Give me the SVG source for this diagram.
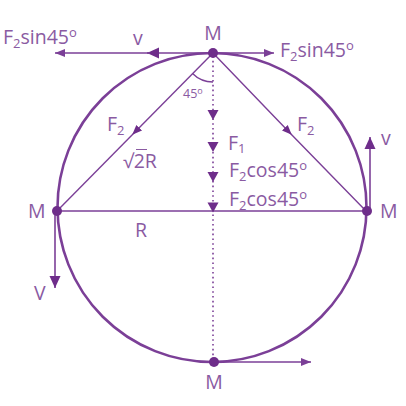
<svg xmlns="http://www.w3.org/2000/svg" width="406" height="406" viewBox="0 0 406 406">
<style>
.ln{stroke:#7b3f97;fill:none;stroke-width:1.4}
.vel{stroke:#7b3f97;fill:none;stroke-width:1.6}
.dot{fill:#6e2d8a}
.t{font-family:"Open Sans","Noto Sans",sans-serif;fill:#8a5aa2;font-size:19.5px}
.s{font-size:12.5px}
.sm{font-size:13px}
.tri{fill:#6e2d8a}
</style>
<defs>
<marker id="ah" markerUnits="userSpaceOnUse" markerWidth="10" markerHeight="10" viewBox="0 0 10 10" refX="10" refY="5" orient="auto">
<path d="M0,1 L10,5 L0,9 Z" fill="#7b3f97"/>
</marker>
<marker id="ahb" markerUnits="userSpaceOnUse" markerWidth="12" markerHeight="12" viewBox="0 0 12 12" refX="12" refY="6" orient="auto">
<path d="M0,0.5 L12,6 L0,11.5 Z" fill="#6e2d8a"/>
</marker>
<marker id="mid" markerUnits="userSpaceOnUse" markerWidth="10" markerHeight="10" viewBox="0 0 10 10" refX="6" refY="5" orient="auto">
<path d="M0,1 L10,5 L0,9 Z" fill="#6e2d8a"/>
</marker>
</defs>

<g id="circle">
<circle cx="212" cy="207.5" r="154.5" fill="none" stroke="#7b3f97" stroke-width="2.6"/>
</g>

<g id="connectors">
<path class="ln" d="M213,53 L135,132 L57,211" marker-mid="url(#mid)"/>
<path class="ln" d="M213,53 L289,132 L366,211" marker-mid="url(#mid)"/>
<line class="ln" x1="57" y1="211" x2="366" y2="211"/>
<line x1="213" y1="56" x2="213" y2="362" stroke="#7b3f97" stroke-width="1.6" stroke-dasharray="1.6 3.2"/>
<line class="vel" x1="213" y1="53" x2="147" y2="53" marker-end="url(#ahb)"/>
<line class="vel" x1="150" y1="53" x2="55" y2="53" marker-end="url(#ah)"/>
<line class="vel" x1="213" y1="53" x2="274" y2="53" marker-end="url(#ah)"/>
<line class="vel" x1="55" y1="213" x2="55" y2="288" marker-end="url(#ahb)"/>
<line class="vel" x1="370" y1="208" x2="370" y2="137" marker-end="url(#ahb)"/>
<line class="vel" x1="214" y1="362" x2="311" y2="362" marker-end="url(#ah)"/>
<path class="ln" d="M192.5,73.5 A29,29 0 0 0 213,82"/>
<polygon class="tri" points="207.5,110 218.5,110 213,120"/>
<polygon class="tri" points="207.5,142 218.5,142 213,152"/>
<polygon class="tri" points="207.5,172 218.5,172 213,182"/>
<polygon class="tri" points="207.5,202.5 218.5,202.5 213,212.5"/>
</g>

<g id="node-top">
<circle class="dot" cx="213" cy="53" r="5"/>
<text class="t" x="213" y="40" text-anchor="middle">M</text>
</g>
<g id="node-left">
<circle class="dot" cx="57" cy="211" r="5"/>
<text class="t" x="28" y="218">M</text>
</g>
<g id="node-right">
<circle class="dot" cx="367" cy="211" r="5"/>
<text class="t" x="380" y="218">M</text>
</g>
<g id="node-bottom">
<circle class="dot" cx="214" cy="362" r="5"/>
<text class="t" x="214" y="389" text-anchor="middle">M</text>
</g>

<g id="labels">
<text class="t" x="3" y="44">F<tspan class="sm" dy="4">2</tspan><tspan dy="-4">sin45</tspan><tspan class="sm" dy="-7">o</tspan></text>
<text class="t" x="133" y="45">v</text>
<text class="t" x="280" y="57">F<tspan class="sm" dy="4">2</tspan><tspan dy="-4">sin45</tspan><tspan class="sm" dy="-7">o</tspan></text>
<text class="t s" x="183" y="98">45<tspan font-size="9" dy="-4">o</tspan></text>
<text class="t" x="107" y="131">F<tspan class="sm" dy="4">2</tspan></text>
<text class="t" x="297" y="131">F<tspan class="sm" dy="4">2</tspan></text>
<text class="t" x="123" y="168">√2R</text>
<line x1="136" y1="149.5" x2="147" y2="149.5" stroke="#8a5aa2" stroke-width="1"/>
<text class="t" x="228" y="150">F<tspan class="sm" dy="3">1</tspan></text>
<text class="t" x="229" y="177">F<tspan class="sm" dy="4">2</tspan><tspan dy="-4">cos45</tspan><tspan class="sm" dy="-7">o</tspan></text>
<text class="t" x="229" y="206">F<tspan class="sm" dy="4">2</tspan><tspan dy="-4">cos45</tspan><tspan class="sm" dy="-7">o</tspan></text>
<text class="t" x="135" y="237">R</text>
<text class="t" x="34" y="300">V</text>
<text class="t" x="381" y="145">v</text>
</g>
</svg>
